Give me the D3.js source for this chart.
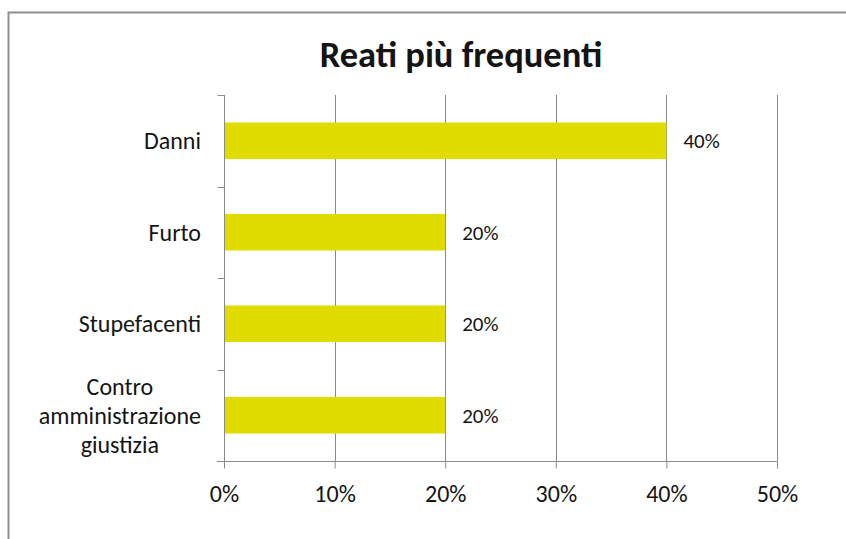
<!DOCTYPE html>
<html>
<head>
<meta charset="utf-8">
<script src="https://cdn.jsdelivr.net/npm/d3@7"></script>
<style>
  html, body { margin: 0; padding: 0; background: #fff; }
  svg { display: block; }
  text { font-family: Carlito, Lato, "Open Sans", sans-serif; fill: #141414; }
</style>
</head>
<body>
<svg id="chart" width="846" height="539"></svg>
<script>
const categories = ["Danni", "Furto", "Stupefacenti", "Contro amministrazione giustizia"];
const categoryLines = [["Danni"], ["Furto"], ["Stupefacenti"], ["Contro", "amministrazione", "giustizia"]];
const values = [0.40, 0.20, 0.20, 0.20];
const tickValues = [0, 0.1, 0.2, 0.3, 0.4, 0.5];
const title = "Reati più frequenti";

const svg = d3.select("#chart");
const W = 846, H = 539;
const margin = { left: 224, right: 846 - 777, top: 95, bottom: 539 - 461 };

// outer frame
svg.append("rect")
  .attr("x", 8.5).attr("y", 12.5)
  .attr("width", W + 20).attr("height", H + 20)
  .attr("fill", "#fff").attr("stroke", "#8f8f8f").attr("stroke-width", 2);

const x = d3.scaleLinear().domain([0, 0.5]).range([margin.left, W - margin.right]);
const y = d3.scaleBand().domain(categories).range([margin.top, H - margin.bottom]).paddingInner(0.6).paddingOuter(0.3);
const yOuter = d3.scaleBand().domain(categories).range([margin.top, H - margin.bottom]);

// title
svg.append("text")
  .attr("x", 461).attr("y", 67)
  .attr("text-anchor", "middle")
  .attr("font-size", 36.5).attr("font-weight", "bold")
  .text(title);

// gridlines
svg.append("g").selectAll("line")
  .data(tickValues.slice(1))
  .join("line")
  .attr("x1", d => Math.round(x(d)) + 0.5).attr("x2", d => Math.round(x(d)) + 0.5)
  .attr("y1", margin.top).attr("y2", H - margin.bottom)
  .attr("stroke", "#8a8a8a").attr("stroke-width", 1);

// bars
svg.append("g").selectAll("rect")
  .data(categories)
  .join("rect")
  .attr("x", x(0))
  .attr("y", d => y(d))
  .attr("width", (d, i) => x(values[i]) - x(0))
  .attr("height", y.bandwidth())
  .attr("fill", "#e1dc00");

// value labels
svg.append("g").selectAll("text")
  .data(categories)
  .join("text")
  .attr("x", (d, i) => x(values[i]) + 17)
  .attr("y", d => y(d) + y.bandwidth() / 2)
  .attr("dy", "0.35em")
  .attr("font-size", 21)
  .text((d, i) => d3.format(".0%")(values[i]));

// x axis
const xAxis = svg.append("g")
  .attr("transform", `translate(0,${H - margin.bottom + 0.5})`)
  .call(d3.axisBottom(x).tickValues(tickValues).tickFormat(d3.format(".0%")).tickSize(7).tickSizeOuter(0).tickPadding(16));
xAxis.select(".domain").attr("stroke", "#8a8a8a").attr("d", `M${x(0) - 7},0H${x(0.5)}`);
xAxis.selectAll(".tick line").attr("stroke", "#8a8a8a");
xAxis.selectAll(".tick text").attr("font-size", 24).attr("fill", "#141414")
  .style("font-family", "Carlito, Lato, 'Open Sans', sans-serif");

// y axis
const yAxisG = svg.append("g").attr("transform", `translate(${x(0) + 0.5},0)`);
yAxisG.append("line")
  .attr("x1", 0).attr("x2", 0)
  .attr("y1", margin.top).attr("y2", H - margin.bottom)
  .attr("stroke", "#8a8a8a");
const boundaries = categories.map(d => yOuter(d)).concat([H - margin.bottom]);
yAxisG.selectAll("line.tk")
  .data(boundaries.slice(0, -1))
  .join("line").attr("class", "tk")
  .attr("x1", -7).attr("x2", 0)
  .attr("y1", d => Math.round(d) + 0.5).attr("y2", d => Math.round(d) + 0.5)
  .attr("stroke", "#8a8a8a");

// category labels
const lineH = 29;
const labelG = svg.append("g");
categories.forEach((c, i) => {
  const lines = categoryLines[i];
  const cy = yOuter(c) + yOuter.bandwidth() / 2;
  const t = labelG.append("text")
    .attr("font-size", 24)
    .attr("text-anchor", lines.length > 1 ? "middle" : "end");
  const n = lines.length;
  lines.forEach((ln, j) => {
    t.append("tspan")
      .attr("x", lines.length > 1 ? 0 : 201)
      .attr("y", cy + (j - (n - 1) / 2) * lineH)
      .attr("dy", "0.35em")
      .text(ln);
  });
  if (n > 1) {
    // center block so that its right edge sits at x = 201
    const w = t.node().getBBox().width;
    t.selectAll("tspan").attr("x", 201 - w / 2);
  }
});
</script>
</body>
</html>
